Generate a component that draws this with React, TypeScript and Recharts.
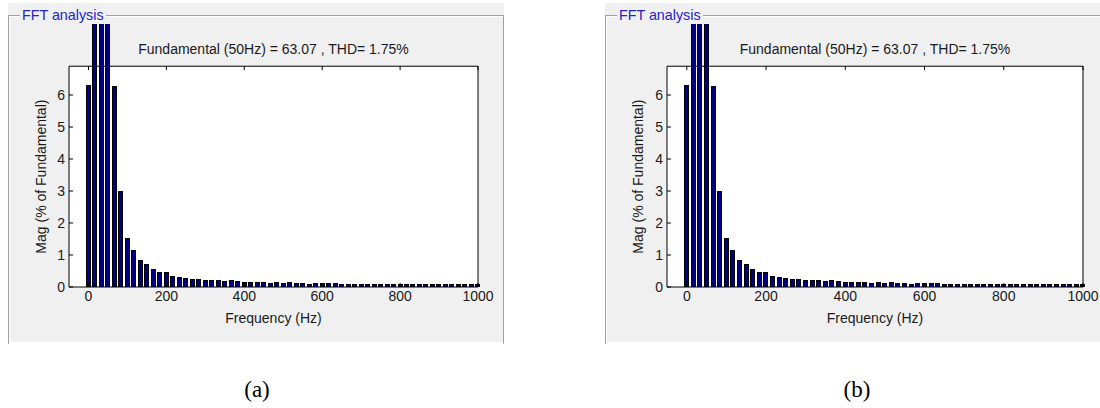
import React from 'react';
import { BarChart, Bar, XAxis, YAxis, ReferenceArea, ReferenceLine, Label } from 'recharts';

// FFT bins (Hz), 50/3 Hz resolution
const freqs = [
    0, 16.7, 33.3, 50, 66.7, 83.3, 100, 116.7, 133.3, 150, 166.7, 183.3, 200,
    216.7, 233.3, 250, 266.7, 283.3, 300, 316.7, 333.3, 350, 366.7, 383.3, 400,
    416.7, 433.3, 450, 466.7, 483.3, 500, 516.7, 533.3, 550, 566.7, 583.3, 600,
    616.7, 633.3, 650, 666.7, 683.3, 700, 716.7, 733.3, 750, 766.7, 783.3, 800,
    816.7, 833.3, 850, 866.7, 883.3, 900, 916.7, 933.3, 950, 966.7, 983.3, 1000,
];

// magnitude, % of fundamental
const mags = [
    6.31, 12.5, 25.0, 100, 6.28, 3.01, 1.52, 1.15, 0.85, 0.72, 0.55, 0.46, 0.46,
    0.35, 0.31, 0.28, 0.25, 0.25, 0.22, 0.21, 0.21, 0.18, 0.21, 0.18, 0.15,
    0.15, 0.15, 0.15, 0.12, 0.15, 0.12, 0.15, 0.12, 0.12, 0.09, 0.12, 0.12,
    0.12, 0.12, 0.09, 0.08, 0.08, 0.08, 0.08, 0.08, 0.08, 0.08, 0.08, 0.09,
    0.08, 0.08, 0.1, 0.08, 0.08, 0.08, 0.08, 0.08, 0.08, 0.08, 0.08, 0.08,
];

const xTicks = [0, 200, 400, 600, 800, 1000];
const yTicks = [0, 1, 2, 3, 4, 5, 6];
const xDomain: [number, number] = [-50, 1000];
const yBoxTop = 6.9; // top edge of the axes box
const yClipTop = 8.22; // panel edge where the tall bars get cut

const plotTitle = 'Fundamental (50Hz) = 63.07 , THD= 1.75%';
const groupTitle = 'FFT analysis';

const data = freqs.map((f, i) => ({ freq: f, mag: mags[i] }));

const FONT = '"Liberation Sans", Arial, sans-serif';
const TEXT = '#1a1a1a';
const tickStyle = { fill: TEXT, fontSize: 14, fontFamily: FONT };
const labelStyle = { fill: TEXT, fontSize: 14, fontFamily: FONT };

// MATLAB-style bar: narrower than the bin spacing, navy with black edge,
// snapped to whole pixels so the gaps stay visible
const NarrowBar = (props: any) => {
    const { x, y, width, height } = props;
    if (height == null || width == null || !(height > 0)) return null;
    const cx = x + width / 2;
    const left = Math.round(cx - 2.5) + 0.5;
    const top = Math.round(y) + 0.5;
    const bottom = Math.round(y + height);
    return (
        <rect
            x={left}
            y={top}
            width={4}
            height={Math.max(bottom - top, 0.5)}
            fill="#000080"
            stroke="#000"
            strokeWidth={1}
        />
    );
};

interface PanelProps {
    left: number;
    width: number;
    plotLeft: number;
    rightPad: number;
    rightBorder: boolean;
    caption: string;
    captionX: number;
}

const CHART_H = 318;
const XAXIS_H = 55;

const FftPanel: React.FC<PanelProps> = ({
    left,
    width,
    plotLeft,
    rightPad,
    rightBorder,
    caption,
    captionX,
}) => {
    const plotW = width - plotLeft - rightPad;

    const renderYLabel = (props: any) => {
        const vb = props.viewBox || {};
        const y0 = vb.y ?? 0;
        const h = vb.height ?? CHART_H - XAXIS_H;
        const cx = (vb.x ?? 0) + 33;
        const cy = y0 + h * (1 - yBoxTop / yClipTop / 2);
        return (
            <text
                x={cx}
                y={cy}
                transform={`rotate(-90, ${cx}, ${cy})`}
                textAnchor="middle"
                dominantBaseline="central"
                style={labelStyle}
            >
                Mag (% of Fundamental)
            </text>
        );
    };

    return (
        <>
            <div
                style={{
                    position: 'absolute',
                    left,
                    top: 3,
                    width,
                    height: 339,
                    background: '#f0f0f0',
                }}
            >
                <div
                    style={{
                        position: 'absolute',
                        left: 0,
                        top: 12,
                        right: rightBorder ? 0 : -2,
                        bottom: -2,
                        borderTop: '1px solid #a0a0a0',
                        borderLeft: '1px solid #a0a0a0',
                        borderRight: rightBorder ? '1px solid #a0a0a0' : 'none',
                        boxShadow: 'inset 1px 1px 0 #ffffff',
                    }}
                />
                <div
                    style={{
                        position: 'absolute',
                        left: 12,
                        top: 4,
                        padding: '0 2px',
                        background: '#f0f0f0',
                        color: '#2424c8',
                        fontFamily: FONT,
                        fontSize: 14.3,
                        lineHeight: '16px',
                    }}
                >
                    {groupTitle}
                </div>
            </div>

            <div style={{ position: 'absolute', left, top: 24 }}>
                <BarChart
                    width={width}
                    height={CHART_H}
                    data={data}
                    margin={{ top: 0, right: 0, bottom: 0, left: 0 }}
                >
                    <XAxis
                        dataKey="freq"
                        type="number"
                        domain={xDomain}
                        ticks={xTicks}
                        interval={0}
                        height={XAXIS_H}
                        axisLine={false}
                        tickSize={-4}
                        tickMargin={8}
                        tickLine={{ stroke: '#000' }}
                        tick={tickStyle}
                    >
                        <Label
                            value="Frequency (Hz)"
                            position="insideBottom"
                            offset={19}
                            style={labelStyle}
                        />
                    </XAxis>
                    <YAxis
                        yAxisId="left"
                        type="number"
                        domain={[0, yClipTop]}
                        allowDataOverflow
                        ticks={yTicks}
                        interval={0}
                        width={plotLeft}
                        axisLine={false}
                        tickSize={-4}
                        tickMargin={8}
                        tickLine={{ stroke: '#000' }}
                        tick={tickStyle}
                        label={{ content: renderYLabel }}
                    />
                    <YAxis
                        yAxisId="right"
                        orientation="right"
                        type="number"
                        domain={[0, yClipTop]}
                        allowDataOverflow
                        ticks={yTicks.slice(1)}
                        interval={0}
                        width={rightPad}
                        axisLine={false}
                        tickSize={-4}
                        tickLine={{ stroke: '#000' }}
                        tick={false}
                    />
                    <ReferenceArea
                        yAxisId="left"
                        x1={xDomain[0]}
                        x2={xDomain[1]}
                        y1={0}
                        y2={yBoxTop}
                        fill="#ffffff"
                        fillOpacity={1}
                        stroke="#000"
                        strokeWidth={1}
                    />
                    <Bar
                        yAxisId="left"
                        dataKey="mag"
                        fill="#000080"
                        shape={NarrowBar}
                        isAnimationActive={false}
                    />
                    {xTicks.map((t) => (
                        <ReferenceLine
                            key={t}
                            yAxisId="left"
                            segment={[
                                { x: t, y: yBoxTop },
                                { x: t, y: yBoxTop - 0.12 },
                            ]}
                            stroke="#000"
                        />
                    ))}
                </BarChart>
            </div>

            <div
                style={{
                    position: 'absolute',
                    left: left + plotLeft,
                    top: 41,
                    width: plotW,
                    textAlign: 'center',
                    fontFamily: FONT,
                    fontSize: 14,
                    lineHeight: '17px',
                    color: TEXT,
                    whiteSpace: 'nowrap',
                }}
            >
                {plotTitle}
            </div>

            <div
                style={{
                    position: 'absolute',
                    left: captionX - 30,
                    top: 376,
                    width: 60,
                    textAlign: 'center',
                    fontFamily: '"Liberation Serif", "Times New Roman", serif',
                    fontSize: 23,
                    lineHeight: '28px',
                    color: '#000',
                }}
            >
                {caption}
            </div>
        </>
    );
};

export default function App() {
    return (
        <div
            style={{
                position: 'absolute',
                left: 0,
                top: 0,
                width: 1100,
                height: 408,
                background: '#ffffff',
                overflow: 'hidden',
            }}
        >
            <FftPanel
                left={8}
                width={496}
                plotLeft={61}
                rightPad={26}
                rightBorder
                caption="(a)"
                captionX={257}
            />
            <FftPanel
                left={605}
                width={495}
                plotLeft={62}
                rightPad={17}
                rightBorder={false}
                caption="(b)"
                captionX={857}
            />
        </div>
    );
}
